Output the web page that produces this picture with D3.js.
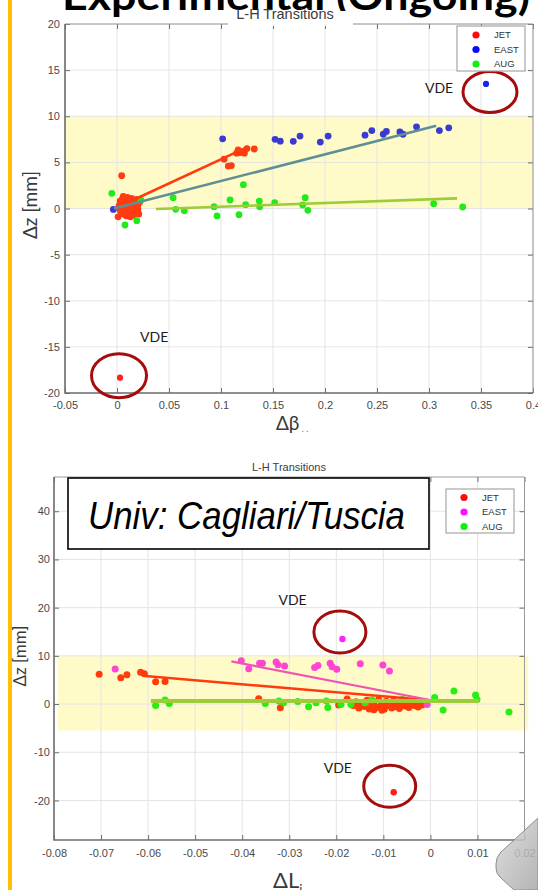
<!DOCTYPE html>
<html>
<head>
<meta charset="utf-8">
<script src="https://cdn.jsdelivr.net/npm/d3@7"></script>
<style>
  html, body { margin: 0; padding: 0; background: #fff; }
  svg { display: block; }
</style>
</head>
<body>
<svg id="slide" width="538" height="890"></svg>
<script>
// ---------- Top panel: Δz vs Δβ ----------
const topXTicks = [-0.05, 0, 0.05, 0.1, 0.15, 0.2, 0.25, 0.3, 0.35, 0.4];
const topYTicks = [-20, -15, -10, -5, 0, 5, 10, 15, 20];

const topJet = [
  [0.001,-0.9],[0.002,0.3],[0.003,0.8],[0.004,-0.4],[0.005,0.1],[0.005,1.0],[0.006,-0.6],
  [0.007,0.5],[0.008,-0.2],[0.008,0.9],[0.009,-0.8],[0.010,0.2],[0.010,1.2],[0.011,-0.5],
  [0.012,0.6],[0.012,-0.1],[0.013,-0.9],[0.014,0.4],[0.014,1.1],[0.015,-0.3],[0.016,0.8],
  [0.016,-0.7],[0.017,0.1],[0.018,0.5],[0.018,-0.5],[0.019,1.0],[0.020,-0.1],[0.020,0.3],
  [0.021,-0.6],[0.022,0.7],[0.006,1.3],[0.003,-0.2],[0.009,0.0],[0.0045,3.55],
  [0.103,5.35],[0.107,4.6],[0.110,4.65],[0.115,6.0],[0.1165,6.35],[0.118,6.05],
  [0.1225,6.0],[0.125,6.5],[0.132,6.45]
];
const topEast = [
  [-0.0035,-0.1],[0.1016,7.55],[0.152,7.5],[0.157,7.3],[0.1695,7.28],[0.176,7.85],
  [0.1955,7.2],[0.203,7.85],[0.2385,7.95],[0.245,8.45],[0.256,8.05],[0.259,8.35],
  [0.272,8.3],[0.275,8.05],[0.288,8.85],[0.31,8.45],[0.319,8.75]
];
const topAug = [
  [-0.005,1.65],[0.0077,-1.79],[0.019,-1.32],[0.023,0.9],[0.054,1.17],[0.0564,-0.09],
  [0.0647,-0.24],[0.0933,0.2],[0.0962,-0.81],[0.1087,0.92],[0.1215,2.58],[0.1173,-0.67],
  [0.1237,0.41],[0.1368,0.81],[0.1372,0.2],[0.1516,0.63],[0.181,1.17],[0.1785,0.38],
  [0.1835,-0.2],[0.3045,0.52],[0.3324,0.16]
];
const topVde = [
  { series: "EAST", x: 0.3548, y: 13.5 },
  { series: "JET",  x: 0.0029, y: -18.34 }
];
// linear fits per device: [start, end]
const topFits = [
  { series: "JET",  from: [-0.002, 0.0],  to: [0.1263, 6.70] },
  { series: "EAST", from: [-0.003, 0.0],  to: [0.307, 8.97] },
  { series: "AUG",  from: [0.0375, -0.05], to: [0.327, 1.10] }
];
const topBand = { x: [-0.05, 0.4], y: [0, 10] };

// ---------- Bottom panel: Δz vs ΔLi ----------
const botXTicks = [-0.08, -0.07, -0.06, -0.05, -0.04, -0.03, -0.02, -0.01, 0, 0.01, 0.02];
const botYTicks = [-20, -10, 0, 10, 20, 30, 40];

const botJet = [
  [-0.0704,6.16],[-0.0658,5.46],[-0.0645,6.08],[-0.0616,6.58],[-0.0608,6.29],
  [-0.0584,4.63],[-0.0564,4.7],[-0.0365,1.1],[-0.0319,-0.76],[-0.0195,-0.2],[-0.0177,1.04],
  [-0.0164,-0.3],[-0.0158,0.5],[-0.0152,-0.8],[-0.0146,0.1],[-0.0140,-0.5],[-0.0135,0.8],
  [-0.0130,-1.0],[-0.0125,-0.2],[-0.0120,0.4],[-0.0115,-0.7],[-0.0110,0.9],[-0.0106,-0.4],
  [-0.0102,0.2],[-0.0098,-1.1],[-0.0094,0.6],[-0.0090,-0.3],[-0.0086,0.0],[-0.0082,-0.8],
  [-0.0078,0.7],[-0.0074,-0.5],[-0.0070,0.3],[-0.0066,-0.9],[-0.0062,0.1],[-0.0058,0.8],
  [-0.0054,-0.4],[-0.0050,0.4],[-0.0046,-0.7],[-0.0042,0.0],[-0.0038,0.6],[-0.0034,-0.3],
  [-0.0030,0.3],[-0.0026,-0.6],[-0.0022,0.5],[-0.0018,-0.2],[-0.0012,0.4],[-0.0120,-1.2],
  [-0.0103,-1.3]
];
const botEast = [
  [-0.067,7.26],[-0.0402,8.99],[-0.0386,7.33],[-0.0363,8.44],[-0.0357,8.44],[-0.0328,8.71],
  [-0.0324,8.16],[-0.031,7.88],[-0.0246,7.6],[-0.0239,8.0],[-0.0213,8.44],[-0.0209,7.74],
  [-0.0199,7.2],[-0.0149,8.37],[-0.0101,8.09],[-0.0087,6.85],[-0.0007,-0.07]
];
const botAug = [
  [-0.0584,-0.28],[-0.0564,0.83],[-0.0555,0.14],[-0.0351,0.14],[-0.0322,0.62],[-0.0312,0.28],
  [-0.0282,0.55],[-0.0259,-0.55],[-0.0243,0.28],[-0.0221,0.62],[-0.0218,-0.69],[-0.019,-0.07],
  [-0.0169,-0.07],[-0.0139,0.28],[-0.0124,0.83],[-0.0059,0.97],[0.0009,1.38],[0.0027,-1.24],
  [0.005,2.7],[0.0096,1.87],[0.0099,0.97],[0.0167,-1.66]
];
const botVde = [
  { series: "EAST", x: -0.0187, y: 13.5 },
  { series: "JET",  x: -0.0078, y: -18.3 }
];
const botFits = [
  { series: "JET",  from: [-0.0606, 5.81], to: [0.0018, 0.62] },
  { series: "EAST", from: [-0.0423, 8.85], to: [0.0018, 0.48] },
  { series: "AUG",  from: [-0.0594, 0.62], to: [0.0103, 0.62] }
];
const botBand = { x: [-0.0792, 0.0208], y: [-5.5, 10] };

const legendNames = ["JET", "EAST", "AUG"];

// ---------- drawing ----------
const svg = d3.select("#slide");
const TICK_FONT = "'Liberation Sans', Arial, Helvetica, sans-serif";
const SLIDE_FONT = "Lato, 'Open Sans', sans-serif";

// slide accent bar
svg.append("rect").attr("x", 8).attr("y", 0).attr("width", 4).attr("height", 890).attr("fill", "#ffc000");

// slide heading (runs off the top edge)
svg.append("text")
  .attr("x", 62).attr("y", 9.5)
  .attr("textLength", 468).attr("lengthAdjust", "spacingAndGlyphs")
  .attr("font-family", SLIDE_FONT).attr("font-weight", 700).attr("font-size", 40)
  .attr("fill", "#000")
  .text("Experimental (Ongoing)");

const fmt = d => String(+d.toFixed(2));

function panel(o) {
  const g = svg.append("g");
  const x = d3.scaleLinear().domain(o.xDomain).range([o.left, o.right]);
  const y = d3.scaleLinear().domain(o.yDomain).range([o.bottom, o.top]);

  // plot background
  g.append("rect").attr("x", o.left).attr("y", o.top)
    .attr("width", o.right - o.left).attr("height", o.bottom - o.top).attr("fill", "#fff");

  // shaded tolerance band
  g.append("rect")
    .attr("x", x(o.band.x[0])).attr("y", y(o.band.y[1]))
    .attr("width", x(o.band.x[1]) - x(o.band.x[0]))
    .attr("height", y(o.band.y[0]) - y(o.band.y[1]))
    .attr("fill", "#fffbc8");

  // grid
  g.append("g").selectAll("line").data(o.xTicks).join("line")
    .attr("x1", d => x(d)).attr("x2", d => x(d)).attr("y1", o.top).attr("y2", o.bottom)
    .attr("stroke", "#e4e4e4").attr("stroke-width", 1);
  g.append("g").selectAll("line").data(o.yTicks).join("line")
    .attr("y1", d => y(d)).attr("y2", d => y(d)).attr("x1", o.left).attr("x2", o.right)
    .attr("stroke", "#e4e4e4").attr("stroke-width", 1);

  // axes with inward ticks, mirrored on top/right
  const style = a => {
    a.select(".domain").remove();
    a.selectAll(".tick line").attr("stroke", "#6e6e6e");
    a.selectAll(".tick text").attr("fill", "#4a4a4a")
      .attr("font-family", TICK_FONT).attr("font-size", o.tickFont);
  };
  g.append("g").attr("transform", `translate(0,${o.bottom})`)
    .call(d3.axisBottom(x).tickValues(o.xTicks).tickFormat(fmt).tickSize(-5).tickPadding(o.xPad)).call(style);
  g.append("g").attr("transform", `translate(0,${o.top})`)
    .call(d3.axisTop(x).tickValues(o.xTicks).tickFormat("").tickSize(-5)).call(style);
  g.append("g").attr("transform", `translate(${o.left},0)`)
    .call(d3.axisLeft(y).tickValues(o.yTicks).tickFormat(fmt).tickSize(-5).tickPadding(o.yPad)).call(style);
  g.append("g").attr("transform", `translate(${o.right},0)`)
    .call(d3.axisRight(y).tickValues(o.yTicks).tickFormat("").tickSize(-5)).call(style);

  // frame
  g.append("path")
    .attr("d", `M${o.left},${o.top}H${o.right}V${o.bottom}`)
    .attr("fill", "none").attr("stroke", "#9a9a9a").attr("stroke-width", 1);
  g.append("path")
    .attr("d", `M${o.left},${o.top}V${o.bottom}H${o.right}`)
    .attr("fill", "none").attr("stroke", "#6e6e6e").attr("stroke-width", 1.6);

  // data points
  const plot = g.append("g");
  o.series.forEach(s => {
    plot.append("g").selectAll("circle").data(s.values).join("circle")
      .attr("cx", d => x(d[0])).attr("cy", d => y(d[1])).attr("r", o.r)
      .attr("fill", s.color);
  });

  // fitted lines
  o.fits.forEach(f => {
    g.append("line")
      .attr("x1", x(f.from[0])).attr("y1", y(f.from[1]))
      .attr("x2", x(f.to[0])).attr("y2", y(f.to[1]))
      .attr("stroke", o.fitColor[f.series]).attr("stroke-width", o.fitWidth[f.series])
      .attr("stroke-linecap", "butt");
  });

  // VDE events, ringed and labelled
  o.vde.forEach((v, i) => {
    const a = o.vdeMarks[i];
    const cx = x(v.x), cy = y(v.y);
    g.append("circle").attr("cx", cx).attr("cy", cy).attr("r", o.r - 0.3).attr("fill", o.vdeColor[v.series]);
    g.append("ellipse")
      .attr("cx", cx + a.dx).attr("cy", cy + a.dy).attr("rx", a.rx).attr("ry", a.ry)
      .attr("fill", "none").attr("stroke", "#a50d0d").attr("stroke-width", 3);
    g.append("text")
      .attr("x", cx + a.lx).attr("y", cy + a.ly)
      .attr("font-family", SLIDE_FONT).attr("font-size", 14).attr("fill", "#1a1a1a")
      .text("VDE");
  });

  // axes title
  if (o.title) {
    g.append("rect").attr("x", o.title.bx).attr("y", o.title.by)
      .attr("width", o.title.bw).attr("height", o.title.bh).attr("fill", "#fff");
    g.append("text").attr("x", o.title.x).attr("y", o.title.y).attr("text-anchor", "middle")
      .attr("font-family", TICK_FONT).attr("font-size", o.title.size).attr("fill", "#3c3c3c")
      .text("L-H Transitions");
  }

  // legend
  const L = o.legend;
  const lg = g.append("g");
  lg.append("rect").attr("x", L.x).attr("y", L.y).attr("width", L.w).attr("height", L.h)
    .attr("fill", "#fff").attr("stroke", "#a6a6a6").attr("stroke-width", 1.2);
  legendNames.forEach((n, i) => {
    const yy = L.y + L.first + i * L.step;
    lg.append("circle").attr("cx", L.x + L.dot).attr("cy", yy).attr("r", 3.6).attr("fill", o.legendColor[n]);
    lg.append("text").attr("x", L.x + L.text).attr("y", yy).attr("dy", "0.35em")
      .attr("font-family", TICK_FONT).attr("font-size", 9.5).attr("fill", "#333")
      .text(n);
  });

  return { x, y };
}

// top panel
panel({
  left: 65, right: 533, top: 24, bottom: 393,
  xDomain: [-0.05, 0.4], yDomain: [-20, 20],
  xTicks: topXTicks, yTicks: topYTicks,
  xPad: 8, yPad: 5, tickFont: 11, r: 3.4,
  band: topBand,
  series: [
    { values: topJet,  color: "#ff3b12" },
    { values: topEast, color: "#3a3ad0" },
    { values: topAug,  color: "#22ea1a" }
  ],
  fits: topFits,
  fitColor: { JET: "#ff3a0c", EAST: "#5e8f94", AUG: "#9ccd38" },
  fitWidth: { JET: 2.6, EAST: 2.6, AUG: 2.6 },
  vde: topVde,
  vdeColor: { EAST: "#1424f0", JET: "#ff2020" },
  vdeMarks: [
    { dx: 4, dy: 8, rx: 27, ry: 20.5, lx: -61, ly: 9 },
    { dx: -1, dy: -2, rx: 27.5, ry: 22, lx: 20, ly: -36 }
  ],
  title: { x: 285, y: 19, size: 14.5, bx: 228, by: 11, bw: 125, bh: 15 },
  legend: { x: 457, y: 26, w: 68, h: 45, first: 9, step: 14.5, dot: 19, text: 37 },
  legendColor: { JET: "#ff0a0a", EAST: "#0a0aff", AUG: "#10f010" }
});

// top axis labels
svg.append("text")
  .attr("transform", "translate(37,205) rotate(-90)").attr("text-anchor", "middle")
  .attr("font-family", SLIDE_FONT).attr("font-size", 19).attr("fill", "#3a3a3a")
  .text("Δz [mm]");
svg.append("text")
  .attr("x", 276).attr("y", 430)
  .attr("font-family", SLIDE_FONT).attr("font-size", 19).attr("fill", "#3a3a3a")
  .text("Δβ")
  .append("tspan").attr("font-size", 9).attr("dy", 2).attr("fill", "#777").text(" . .");

// bottom panel
panel({
  left: 54, right: 524.5, top: 477, bottom: 840,
  xDomain: [-0.08, 0.02], yDomain: [-28.2, 47.1],
  xTicks: botXTicks, yTicks: botYTicks,
  xPad: 9, yPad: 4, tickFont: 11, r: 3.5,
  band: botBand,
  series: [
    { values: botJet,  color: "#ff3b0a" },
    { values: botEast, color: "#ff45d2" },
    { values: botAug,  color: "#28ee14" }
  ],
  fits: botFits,
  fitColor: { JET: "#ff3a0c", EAST: "#ee55b0", AUG: "#9ccd38" },
  fitWidth: { JET: 2.4, EAST: 2.2, AUG: 4 },
  vde: botVde,
  vdeColor: { EAST: "#ff22ff", JET: "#ff1c1c" },
  vdeMarks: [
    { dx: -2.5, dy: -7, rx: 26, ry: 21, lx: -64, ly: -34 },
    { dx: -4, dy: -6, rx: 26, ry: 21, lx: -70, ly: -19 }
  ],
  title: { x: 289, y: 471, size: 11, bx: 240, by: 462, bw: 100, bh: 12 },
  legend: { x: 446, y: 489, w: 68, h: 44, first: 8.5, step: 14.5, dot: 18, text: 36 },
  legendColor: { JET: "#ff0a0a", EAST: "#ff10ff", AUG: "#10f010" }
});

// attribution box
svg.append("rect").attr("x", 68).attr("y", 478).attr("width", 361).attr("height", 71)
  .attr("fill", "#fff").attr("stroke", "#000").attr("stroke-width", 1.6);
svg.append("text")
  .attr("x", 88).attr("y", 529)
  .attr("textLength", 317).attr("lengthAdjust", "spacingAndGlyphs")
  .attr("font-family", TICK_FONT).attr("font-style", "italic").attr("font-size", 38).attr("fill", "#000")
  .text("Univ: Cagliari/Tuscia");

// bottom axis labels
svg.append("text")
  .attr("transform", "translate(26,656) rotate(-90)").attr("text-anchor", "middle")
  .attr("font-family", SLIDE_FONT).attr("font-size", 17).attr("fill", "#3a3a3a")
  .text("Δz [mm]");
svg.append("text")
  .attr("x", 273).attr("y", 888)
  .attr("font-family", SLIDE_FONT).attr("font-size", 22).attr("fill", "#3a3a3a")
  .text("ΔL")
  .append("tspan").attr("font-size", 13).attr("dy", 6).text("i");

// audio icon in the corner
const grad = svg.append("defs").append("linearGradient").attr("id", "spk")
  .attr("x1", 0).attr("y1", 0).attr("x2", 1).attr("y2", 1);
grad.append("stop").attr("offset", 0).attr("stop-color", "#d9d9d9");
grad.append("stop").attr("offset", 1).attr("stop-color", "#a8a8a8");
svg.append("path")
  .attr("d", "M538,818 L501,852 Q496,857 496,864 L496,868 Q496,874 501,878 L514,890 L538,890 Z")
  .attr("fill", "url(#spk)").attr("fill-opacity", 0.85)
  .attr("stroke", "#8c8c8c").attr("stroke-width", 1);
</script>
</body>
</html>
